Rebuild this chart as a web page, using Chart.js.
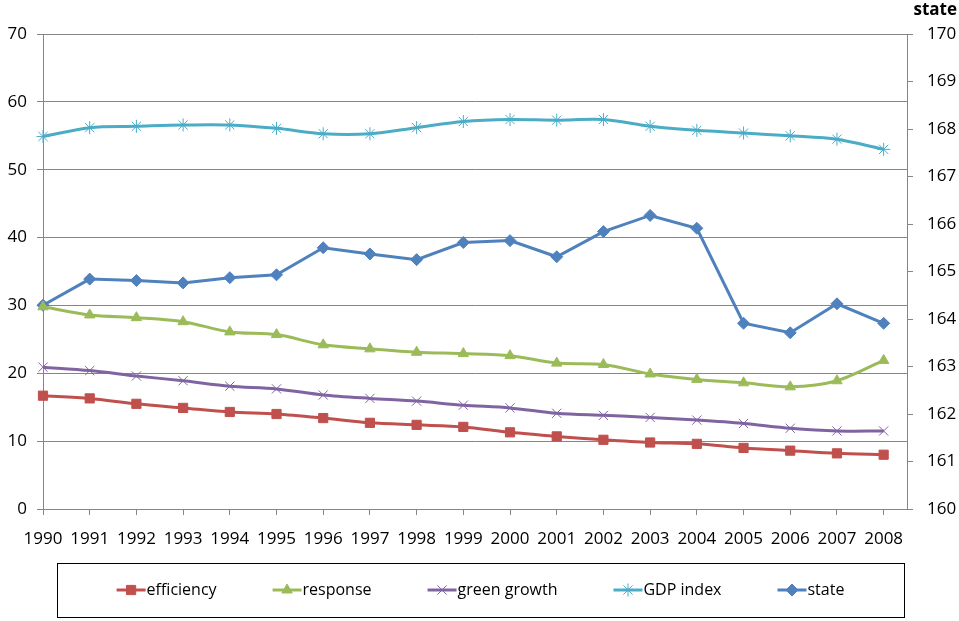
<!DOCTYPE html>
<html><head><meta charset="utf-8">
<script src="https://cdn.jsdelivr.net/npm/chart.js@4/dist/chart.umd.min.js"></script>
<style>html,body{margin:0;padding:0;background:#fff}#wrap{width:959px;height:621px}</style>
</head><body><div id="wrap"><canvas id="c" width="959" height="621"></canvas></div>
<script>
const categories = ['1990','1991','1992','1993','1994','1995','1996','1997','1998','1999','2000','2001','2002','2003','2004','2005','2006','2007','2008'];
const efficiency = [16.7,16.3,15.5,14.9,14.3,14.0,13.4,12.7,12.4,12.1,11.3,10.7,10.2,9.8,9.6,9.0,8.6,8.2,8.0];
const response = [29.8,28.6,28.2,27.6,26.1,25.7,24.2,23.6,23.1,22.9,22.6,21.5,21.3,19.9,19.1,18.6,18.0,18.9,21.9];
const greenGrowth = [20.9,20.4,19.6,18.9,18.1,17.7,16.8,16.3,15.9,15.3,14.9,14.1,13.8,13.5,13.1,12.6,11.9,11.5,11.5];
const gdpIndex = [54.9,56.2,56.4,56.6,56.6,56.1,55.3,55.3,56.2,57.1,57.4,57.3,57.4,56.4,55.8,55.4,55.0,54.5,53.0];
const state = [164.29,164.84,164.81,164.76,164.87,164.93,165.50,165.37,165.25,165.61,165.65,165.31,165.84,166.18,165.91,163.91,163.71,164.32,163.91];
const leftTicks = [0,10,20,30,40,50,60,70];
const rightTicks = [160,161,162,163,164,165,166,167,168,169,170];
const seriesNames = ['efficiency','response','green growth','GDP index','state'];
const rightAxisTitle = 'state';

const FONT = '"Open Sans", "Noto Sans", sans-serif';
const GRID = '#868686';
const toXY = arr => arr.map((v,i)=>({x:+categories[i], y:v}));

function ds(label, data, color, style, radius, extra) {
  return Object.assign({
    label, data: toXY(data), borderColor: color, backgroundColor: color,
    pointBackgroundColor: color, pointBorderColor: color,
    borderWidth: 3, pointStyle: style, pointRadius: radius, pointHoverRadius: radius,
    pointBorderWidth: 1, tension: 0.3, clip: false, yAxisID: 'y'
  }, extra || {});
}

const datasets = [
  ds(seriesNames[0], efficiency, '#C0504D', 'rect', 6.5),
  ds(seriesNames[1], response, '#9BBB59', 'triangle', 6),
  ds(seriesNames[2], greenGrowth, '#8064A2', 'crossRot', 6.5),
  ds(seriesNames[3], gdpIndex, '#4BACC6', 'star', 6.5),
  ds(seriesNames[4], state, '#4F81BD', 'rectRot', 6, {yAxisID:'y2', tension:0})
];

const legendPlugin = {
  id: 'boxLegend',
  afterDraw(chart) {
    const ctx = chart.ctx;
    ctx.save();
    ctx.strokeStyle = '#000'; ctx.lineWidth = 1;
    ctx.strokeRect(57.5, 563.5, 847, 54);
    const lf = '16px ' + FONT;
    ctx.font = lf;
    const lineW = 29, gapT = 1, gapItems = 56;
    const dsets = chart.data.datasets;
    const widths = dsets.map(d => lineW + gapT + ctx.measureText(d.label).width);
    const total = widths.reduce((a,b)=>a+b,0) + gapItems*(dsets.length-1);
    let x = 57 + (847 - total)/2;
    const y = 590;
    dsets.forEach((d,i) => {
      ctx.strokeStyle = d.borderColor; ctx.lineWidth = 3;
      ctx.beginPath(); ctx.moveTo(x, y); ctx.lineTo(x+lineW, y); ctx.stroke();
      ctx.fillStyle = d.borderColor; ctx.strokeStyle = d.borderColor; ctx.lineWidth = 1;
      Chart.helpers.drawPoint(ctx, {pointStyle: d.pointStyle, rotation: 0, radius: d.pointRadius, borderWidth: 1}, x + lineW/2, y);
      ctx.fillStyle = '#000'; ctx.textBaseline = 'middle'; ctx.textAlign = 'left';
      ctx.font = lf;
      ctx.fillText(d.label, x + lineW + gapT, y);
      x += widths[i] + gapItems;
    });
    ctx.font = 'bold 17px ' + FONT;
    ctx.textAlign = 'right'; ctx.textBaseline = 'middle'; ctx.fillStyle = '#000';
    ctx.fillText(rightAxisTitle, 957, 10);
    ctx.restore();
  }
};

new Chart(document.getElementById('c'), {
  type: 'line',
  data: { datasets },
  plugins: [legendPlugin],
  options: {
    responsive: false, animation: false, devicePixelRatio: 1,
    layout: { padding: { top: 34, left: 0, right: 0, bottom: 0 } },
    plugins: { legend: { display: false }, title: { display: false }, tooltip: { enabled: false } },
    scales: {
      x: {
        type: 'linear', min: +categories[0], max: +categories[categories.length-1] + 0.5,
        afterBuildTicks: s => { s.ticks = categories.map(c => ({value: +c})); },
        afterFit: s => { s.height = 112; },
        ticks: { color: '#000', font: { family: FONT, size: 17 }, padding: 14, maxRotation: 0, autoSkip: false, callback: v => String(v) },
        grid: { drawOnChartArea: false, drawTicks: true, tickLength: 6, color: GRID },
        border: { display: true, color: GRID }
      },
      y: {
        position: 'left', min: leftTicks[0], max: leftTicks[leftTicks.length-1],
        afterBuildTicks: s => { s.ticks = leftTicks.map(v => ({value: v})); },
        afterFit: s => { s.width = 43; },
        ticks: { color: '#000', font: { family: FONT, size: 17 }, padding: 10 },
        grid: { color: GRID, tickLength: 6, lineWidth: 1 },
        border: { display: true, color: GRID }
      },
      y2: {
        position: 'right', min: rightTicks[0], max: rightTicks[rightTicks.length-1],
        afterBuildTicks: s => { s.ticks = rightTicks.map(v => ({value: v})); },
        afterFit: s => { s.width = 52; },
        ticks: { color: '#000', font: { family: FONT, size: 17 }, padding: 14 },
        grid: { drawOnChartArea: false, tickLength: 6, color: GRID },
        border: { display: true, color: GRID }
      }
    }
  }
});
</script></body></html>
